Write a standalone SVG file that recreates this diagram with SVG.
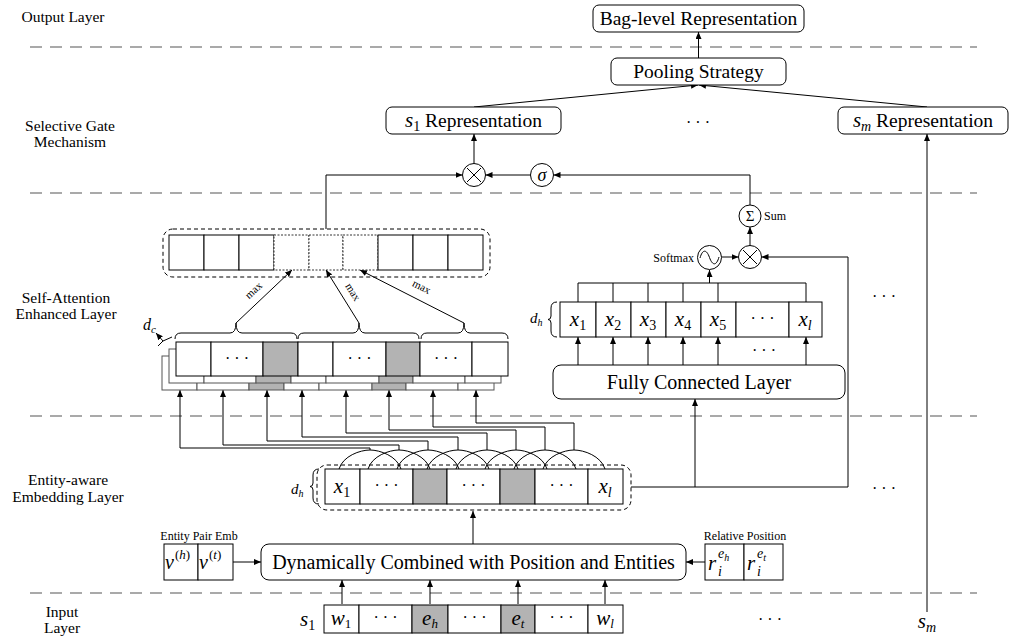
<svg xmlns="http://www.w3.org/2000/svg" width="1013" height="642" viewBox="0 0 1013 642">
<defs>
<marker id="ah" markerWidth="8" markerHeight="6" refX="7" refY="3" orient="auto" markerUnits="userSpaceOnUse"><path d="M0,0 L7,3 L0,6 Z" fill="#000"/></marker>
</defs>
<style>
text{font-family:"Liberation Serif","Times New Roman",serif;fill:#000}
.lbl{font-size:15.5px;text-anchor:middle}
.box{fill:#fff;stroke:#000;stroke-width:1}
.bt{font-size:19.5px;text-anchor:middle}
.ln{fill:none;stroke:#000;stroke-width:1}
.ar{fill:none;stroke:#000;stroke-width:1;marker-end:url(#ah)}
.sep{stroke:#555;stroke-width:1.2;stroke-dasharray:12 8}
.cell{fill:#fff;stroke:#000;stroke-width:1}
.g{fill:#b3b3b3}
.bk .cell{stroke:#555}
.dash{fill:none;stroke:#000;stroke-width:1;stroke-dasharray:4 3}
.fd{fill:#fff;stroke:#000;stroke-width:0.8;stroke-dasharray:2 1.5}
.it{font-style:italic}
.sm{font-size:12px}
.dots{font-size:16px;text-anchor:middle}
.mx{font-size:21px;text-anchor:middle}
</style>

<!-- layer separators and labels -->
<g id="layers">
<line class="sep" x1="30" y1="47" x2="977" y2="47"/>
<line class="sep" x1="30" y1="193" x2="977" y2="193"/>
<line class="sep" x1="30" y1="416" x2="977" y2="416"/>
<line class="sep" x1="30" y1="593" x2="977" y2="593"/>
<text class="lbl" x="63" y="22">Output Layer</text>
<text class="lbl" x="70" y="131">Selective Gate</text>
<text class="lbl" x="70" y="147">Mechanism</text>
<text class="lbl" x="66" y="303">Self-Attention</text>
<text class="lbl" x="66" y="319">Enhanced Layer</text>
<text class="lbl" x="68" y="485">Entity-aware</text>
<text class="lbl" x="68" y="502">Embedding Layer</text>
<text class="lbl" x="62" y="617">Input</text>
<text class="lbl" x="62" y="633">Layer</text>
</g>

<!-- connectors -->
<g id="connectors">
<path class="ar" d="M698.5 58 V32"/>
<path class="ar" d="M474 107 L698 85"/>
<path class="ar" d="M927 107 L699 85"/>
<path class="ar" d="M474 163.5 V134"/>
<path class="ar" d="M927 612 V134"/>
<path class="ar" d="M326 229 V175 H462.5"/>
<path class="ar" d="M530.5 175 H485.5"/>
<path class="ar" d="M750 205 V175 H553.5"/>
<path class="ar" d="M750 245.5 V227"/>
<path class="ar" d="M721.5 257 H738.5"/>
<path class="ar" d="M631 487 H848 V257 H761.5"/>
<path class="ar" d="M695 487 V399"/>
<path class="ar" d="M709.5 283 V270"/>
<path class="ln" d="M578 302 V283 H806 V302 M613 302 V283 M648 302 V283 M683 302 V283 M718 302 V283"/>
<path class="ar" d="M578 365 V337"/>
<path class="ar" d="M613 365 V337"/>
<path class="ar" d="M648 365 V337"/>
<path class="ar" d="M683 365 V337"/>
<path class="ar" d="M718 365 V337"/>
<path class="ar" d="M806 365 V337"/>
<!-- max pooling arrows -->
<path class="ar" d="M236 323 L292 270"/>
<path class="ar" d="M359 323 L326 270"/>
<path class="ar" d="M464 323 L360 270"/>
<!-- conv input arrows -->
<path class="ar" d="M370 450 V448 H180 V390"/>
<path class="ar" d="M399 450 V445 H223 V390"/>
<path class="ar" d="M428 450 V441 H267 V390"/>
<path class="ar" d="M458 450 V437 H302 V390"/>
<path class="ar" d="M487 450 V433 H346 V390"/>
<path class="ar" d="M516 450 V430 H389 V390"/>
<path class="ar" d="M545 450 V427 H433 V390"/>
<path class="ar" d="M574 450 V423 H476 V390"/>
<!-- window arcs -->
<path class="ln" d="M339 469 C343 456 360 450 370 450 C380 450 397 456 401 469"/>
<path class="ln" d="M368 469 C372 456 389 450 399 450 C409 450 426 456 430 469"/>
<path class="ln" d="M397 469 C401 456 418 450 428 450 C438 450 455 456 459 469"/>
<path class="ln" d="M427 469 C431 456 448 450 458 450 C468 450 485 456 489 469"/>
<path class="ln" d="M456 469 C460 456 477 450 487 450 C497 450 514 456 518 469"/>
<path class="ln" d="M485 469 C489 456 506 450 516 450 C526 450 543 456 547 469"/>
<path class="ln" d="M514 469 C518 456 535 450 545 450 C555 450 572 456 576 469"/>
<path class="ln" d="M543 469 C547 456 564 450 574 450 C584 450 601 456 605 469"/>
<path class="ar" d="M473 544 V511"/>
<path class="ar" d="M233 562 H261"/>
<path class="ar" d="M705 562 H686"/>
<path class="ar" d="M342 604 V580"/>
<path class="ar" d="M430 604 V580"/>
<path class="ar" d="M518 604 V580"/>
<path class="ar" d="M605 604 V580"/>
</g>

<!-- output -->
<g id="bag">
<rect class="box" x="593" y="5" width="211" height="27" rx="6"/>
<text class="bt" x="698.5" y="25">Bag-level Representation</text>
</g>
<g id="pooling">
<rect class="box" x="611" y="58" width="175" height="27" rx="6"/>
<text class="bt" x="698.5" y="78">Pooling Strategy</text>
</g>
<g id="s1rep">
<rect class="box" x="386" y="107" width="175" height="27" rx="6"/>
<text class="bt" x="473.5" y="127"><tspan class="it" font-size="21">s</tspan><tspan font-size="14" dy="4">1</tspan><tspan dy="-4"> Representation</tspan></text>
</g>
<g id="dots-rep"><text class="dots" x="698" y="128">· · ·</text></g>
<g id="smrep">
<rect class="box" x="838" y="107" width="170" height="27" rx="6"/>
<text class="bt" x="923" y="127"><tspan class="it" font-size="21">s</tspan><tspan class="it" font-size="14" dy="4">m</tspan><tspan dy="-4"> Representation</tspan></text>
</g>

<!-- gate -->
<g id="mult-gate">
<circle class="box" cx="474" cy="175" r="11.5"/>
<path class="ln" d="M467 168 L481 182 M481 168 L467 182"/>
</g>
<g id="sigma">
<circle class="box" cx="542" cy="175" r="11.5"/>
<text x="542" y="181" font-size="18" class="it" text-anchor="middle">σ</text>
</g>
<g id="sum">
<circle class="box" cx="750" cy="216" r="11"/>
<text x="750" y="221" font-size="15" text-anchor="middle">Σ</text>
<text class="sm" x="764" y="220">Sum</text>
</g>
<g id="softmax">
<circle class="box" cx="709.5" cy="257.5" r="12"/>
<path class="ln" d="M700 258 C702.5 249 706.5 249 709.5 257.5 C712.5 266 716.5 266 719 257"/>
<text class="sm" x="694" y="262" text-anchor="end">Softmax</text>
</g>
<g id="mult-att">
<circle class="box" cx="750" cy="257" r="11.5"/>
<path class="ln" d="M743 250 L757 264 M757 250 L743 264"/>
</g>

<!-- pooled vector -->
<g id="pooled">
<rect class="dash" x="163" y="229" width="327" height="48" rx="10"/>
<rect class="cell" x="169" y="235" width="35" height="35"/>
<rect class="cell" x="204" y="235" width="35" height="35"/>
<rect class="cell" x="239" y="235" width="35" height="35"/>
<rect class="fd" x="274" y="235" width="35" height="35"/>
<rect class="fd" x="309" y="235" width="34" height="35"/>
<rect class="fd" x="343" y="235" width="35" height="35"/>
<rect class="cell" x="378" y="235" width="35" height="35"/>
<rect class="cell" x="413" y="235" width="35" height="35"/>
<rect class="cell" x="448" y="235" width="35" height="35"/>
<text font-size="11" transform="translate(256 293) rotate(-43)" text-anchor="middle">max</text>
<text font-size="11" transform="translate(350 294) rotate(58)" text-anchor="middle">max</text>
<text font-size="11" transform="translate(420 290) rotate(27)" text-anchor="middle">max</text>
</g>

<!-- braces -->
<g id="braces">
<path class="ln" d="M175 339 Q175 333 181 333 L230 333 Q236 333 236 323 Q236 333 242 333 L291 333 Q297 333 297 339"/>
<path class="ln" d="M298 339 Q298 333 304 333 L353 333 Q359 333 359 323 Q359 333 365 333 L413 333 Q419 333 419 339"/>
<path class="ln" d="M421 339 Q421 333 427 333 L458 333 Q464 333 464 323 Q464 333 470 333 L502 333 Q508 333 508 339"/>
</g>

<!-- convolution feature maps -->
<g id="conv">
<g class="bk" transform="translate(-14 14)">
<rect class="cell" x="176" y="342" width="35" height="34"/><rect class="cell" x="211" y="342" width="52" height="34"/><rect class="cell g" x="263" y="342" width="35" height="34"/><rect class="cell" x="298" y="342" width="35" height="34"/><rect class="cell" x="333" y="342" width="53" height="34"/><rect class="cell g" x="386" y="342" width="34" height="34"/><rect class="cell" x="420" y="342" width="52" height="34"/><rect class="cell" x="472" y="342" width="36" height="34"/>
</g>
<g class="bk" transform="translate(-7 7)">
<rect class="cell" x="176" y="342" width="35" height="34"/><rect class="cell" x="211" y="342" width="52" height="34"/><rect class="cell g" x="263" y="342" width="35" height="34"/><rect class="cell" x="298" y="342" width="35" height="34"/><rect class="cell" x="333" y="342" width="53" height="34"/><rect class="cell g" x="386" y="342" width="34" height="34"/><rect class="cell" x="420" y="342" width="52" height="34"/><rect class="cell" x="472" y="342" width="36" height="34"/>
</g>
<rect class="cell" x="176" y="342" width="35" height="34"/><rect class="cell" x="211" y="342" width="52" height="34"/><rect class="cell g" x="263" y="342" width="35" height="34"/><rect class="cell" x="298" y="342" width="35" height="34"/><rect class="cell" x="333" y="342" width="53" height="34"/><rect class="cell g" x="386" y="342" width="34" height="34"/><rect class="cell" x="420" y="342" width="52" height="34"/><rect class="cell" x="472" y="342" width="36" height="34"/>
<text class="dots" x="237" y="364">· · ·</text>
<text class="dots" x="359.5" y="364">· · ·</text>
<text class="dots" x="446" y="364">· · ·</text>
<path class="ln" d="M158 346 L163 341 L172 337"/>
<path class="ar" d="M163 341 L156 333"/>
<text x="143" y="330" font-size="16" class="it">d<tspan font-size="11" dy="3">c</tspan></text>
</g>

<!-- attention scores -->
<g id="att-cells">
<rect class="cell" x="560" y="302" width="36" height="35"/>
<rect class="cell" x="596" y="302" width="35" height="35"/>
<rect class="cell" x="631" y="302" width="35" height="35"/>
<rect class="cell" x="666" y="302" width="35" height="35"/>
<rect class="cell" x="701" y="302" width="35" height="35"/>
<rect class="cell" x="736" y="302" width="53" height="35"/>
<rect class="cell" x="789" y="302" width="33" height="35"/>
<text class="mx" x="578" y="326"><tspan class="it">x</tspan><tspan font-size="14" dy="4">1</tspan></text>
<text class="mx" x="613" y="326"><tspan class="it">x</tspan><tspan font-size="14" dy="4">2</tspan></text>
<text class="mx" x="648" y="326"><tspan class="it">x</tspan><tspan font-size="14" dy="4">3</tspan></text>
<text class="mx" x="683" y="326"><tspan class="it">x</tspan><tspan font-size="14" dy="4">4</tspan></text>
<text class="mx" x="718" y="326"><tspan class="it">x</tspan><tspan font-size="14" dy="4">5</tspan></text>
<text class="dots" x="762.5" y="324">· · ·</text>
<text class="mx" x="805" y="326"><tspan class="it">x</tspan><tspan class="it" font-size="14" dy="4">l</tspan></text>
<text x="530" y="323" font-size="15" class="it">d<tspan font-size="10" dy="3">h</tspan></text>
<path class="ln" d="M557 302 Q551 302 551 308 L551 316 Q551 319.5 548 319.5 Q551 319.5 551 323 L551 331 Q551 337 557 337"/>
<text class="dots" x="764" y="356">· · ·</text>
</g>
<g id="fc">
<rect class="box" x="553" y="365" width="292" height="34" rx="8"/>
<text x="699" y="389" font-size="20" text-anchor="middle">Fully Connected Layer</text>
</g>
<g id="dots-right">
<text class="dots" x="884" y="302">· · ·</text>
<text class="dots" x="884" y="494">· · ·</text>
<text class="dots" x="770" y="625">· · ·</text>
</g>

<!-- embedding layer -->
<g id="embedding">
<rect class="dash" x="317" y="465" width="314" height="45" rx="10"/>
<rect class="cell" x="325" y="469" width="35" height="35"/>
<rect class="cell" x="360" y="469" width="53" height="35"/>
<rect class="cell g" x="413" y="469" width="34" height="35"/>
<rect class="cell" x="447" y="469" width="53" height="35"/>
<rect class="cell g" x="500" y="469" width="35" height="35"/>
<rect class="cell" x="535" y="469" width="53" height="35"/>
<rect class="cell" x="588" y="469" width="35" height="35"/>
<text class="mx" x="342" y="493"><tspan class="it">x</tspan><tspan font-size="14" dy="4">1</tspan></text>
<text class="dots" x="386.5" y="491">· · ·</text>
<text class="dots" x="473.5" y="491">· · ·</text>
<text class="dots" x="561.5" y="491">· · ·</text>
<text class="mx" x="605" y="493"><tspan class="it">x</tspan><tspan class="it" font-size="14" dy="4">l</tspan></text>
<text x="291" y="494" font-size="15" class="it">d<tspan font-size="10" dy="3">h</tspan></text>
<path class="ln" d="M319 469 Q313 469 313 475 L313 483 Q313 486.5 310 486.5 Q313 486.5 313 490 L313 498 Q313 504 319 504"/>
</g>

<!-- input side -->
<g id="dynamic">
<rect class="box" x="261" y="544" width="425" height="36" rx="8"/>
<text x="473.5" y="569" font-size="20" text-anchor="middle">Dynamically Combined with Position and Entities</text>
</g>
<g id="entity-pair">
<text class="sm" x="199" y="540" text-anchor="middle">Entity Pair Emb</text>
<rect class="cell" x="164" y="544" width="34" height="36"/>
<rect class="cell" x="198" y="544" width="35" height="36"/>
<text x="165" y="569" font-size="20" class="it">v</text>
<text x="175" y="559" font-size="13">(<tspan class="it">h</tspan>)</text>
<text x="199" y="569" font-size="20" class="it">v</text>
<text x="209" y="559" font-size="13">(<tspan class="it">t</tspan>)</text>
</g>
<g id="rel-pos">
<text class="sm" x="745" y="540" text-anchor="middle">Relative Position</text>
<rect class="cell" x="705" y="544" width="39" height="36"/>
<rect class="cell" x="744" y="544" width="39" height="36"/>
<text x="708" y="570" font-size="21" class="it">r</text>
<text x="718" y="558" font-size="14" class="it">e<tspan font-size="10" dy="3">h</tspan></text>
<text x="718" y="576" font-size="14" class="it">i</text>
<text x="747" y="570" font-size="21" class="it">r</text>
<text x="757" y="558" font-size="14" class="it">e<tspan font-size="10" dy="3">t</tspan></text>
<text x="757" y="576" font-size="14" class="it">i</text>
</g>
<g id="input">
<text x="300" y="626" font-size="21" class="it">s<tspan font-size="14" font-style="normal" dy="4">1</tspan></text>
<rect class="cell" x="324" y="605" width="35" height="28"/>
<rect class="cell" x="359" y="605" width="53" height="28"/>
<rect class="cell g" x="412" y="605" width="36" height="28"/>
<rect class="cell" x="448" y="605" width="53" height="28"/>
<rect class="cell g" x="501" y="605" width="34" height="28"/>
<rect class="cell" x="535" y="605" width="53" height="28"/>
<rect class="cell" x="588" y="605" width="35" height="28"/>
<text class="mx" x="341" y="625" font-size="20"><tspan class="it">w</tspan><tspan font-size="13" dy="3">1</tspan></text>
<text class="dots" x="385.5" y="623">· · ·</text>
<text class="mx" x="430" y="625" font-size="20"><tspan class="it">e</tspan><tspan class="it" font-size="13" dy="3">h</tspan></text>
<text class="dots" x="474.5" y="623">· · ·</text>
<text class="mx" x="518" y="625" font-size="20"><tspan class="it">e</tspan><tspan class="it" font-size="13" dy="3">t</tspan></text>
<text class="dots" x="561.5" y="623">· · ·</text>
<text class="mx" x="605" y="625" font-size="20"><tspan class="it">w</tspan><tspan class="it" font-size="13" dy="3">l</tspan></text>
</g>
<g id="sm-input">
<text x="927" y="628" font-size="21" class="it" text-anchor="middle">s<tspan font-size="14" dy="4">m</tspan></text>
</g>
</svg>
